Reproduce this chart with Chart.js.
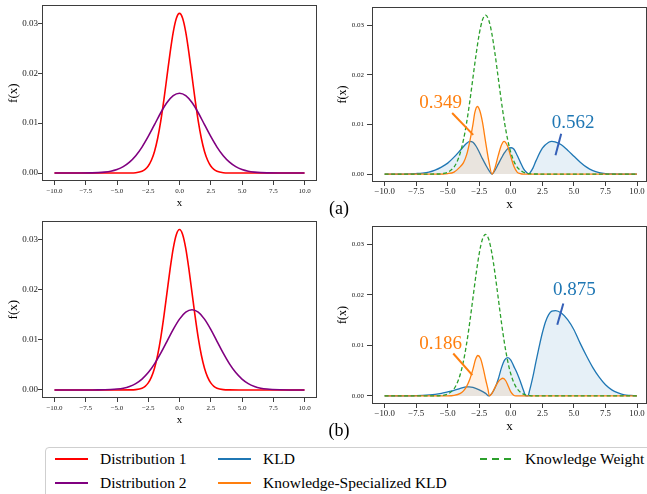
<!DOCTYPE html>
<html>
<head>
<meta charset="utf-8">
<script src="https://cdn.jsdelivr.net/npm/chart.js@4.4.1/dist/chart.umd.min.js"></script>
<style>
  body { margin: 0; background: #fff; }
  #fig { position: relative; width: 647px; height: 494px; overflow: hidden; background: #fff; font-family: "Liberation Serif", serif; }
  canvas { position: absolute; }
  .tag { position: absolute; font-size: 18px; color: #000; transform: translate(-50%, -50%); white-space: nowrap; }
  #legend { position: absolute; left: 45px; top: 447px; width: 640px; height: 70px; border: 1px solid #cfcfcf; border-radius: 4px; }
  .sw { position: absolute; width: 33px; height: 2px; }
  .lt { position: absolute; font-size: 15.5px; color: #000; transform: translateY(-50%); white-space: nowrap; }
</style>
</head>
<body>
<div id="fig">
  <canvas id="tl" width="320" height="212" style="left:0;top:0"></canvas>
  <canvas id="tr" width="317" height="215" style="left:330px;top:0"></canvas>
  <canvas id="bl" width="320" height="212" style="left:0;top:216px"></canvas>
  <canvas id="br" width="317" height="215" style="left:330px;top:219px"></canvas>
  <div class="tag" style="left:339px;top:208px">(a)</div>
  <div class="tag" style="left:339px;top:430px">(b)</div>
  <div id="legend"></div>
</div>
<script>
const FONT = "Liberation Serif";

// tick values
const xTicks = [-10, -7.5, -5, -2.5, 0, 2.5, 5, 7.5, 10];
const yTicks = [0, 0.01, 0.02, 0.03];

// left panels: the two distributions
const xsRed = [-10,-5,-4,-3.5,-3,-2.75,-2.5,-2.25,-2,-1.75,-1.5,-1.25,-1,-0.75,-0.5,-0.25,0,0.25,0.5,0.75,1,1.25,1.5,1.75,2,2.25,2.5,2.75,3,3.5,4,5,10];
const dist1 = [0,0,0.00001,0.00007,0.00036,0.00073,0.00141,0.00255,0.00433,0.00692,0.01039,0.01465,0.01941,0.02415,0.02824,0.03101,0.032,0.03101,0.02824,0.02415,0.01941,0.01465,0.01039,0.00692,0.00433,0.00255,0.00141,0.00073,0.00036,0.00007,0.00001,0,0];

const xsPurple = [-10,-9,-8,-7,-6.5,-6,-5.5,-5,-4.5,-4,-3.5,-3,-2.5,-2,-1.5,-1,-0.5,0,0.5,1,1.5,2,2.5,3,3.5,4,4.5,5,5.5,6,6.5,7,8,9,10];
const dist2a = [0,0,0.000005,0.000035,0.00008,0.00018,0.00036,0.0007,0.00127,0.00217,0.00346,0.0052,0.00733,0.0097,0.01208,0.01412,0.01551,0.016,0.01551,0.01412,0.01208,0.0097,0.00733,0.0052,0.00346,0.00217,0.00127,0.0007,0.00036,0.00018,0.00008,0.000035,0.000005,0,0];
const dist2b = [0,0,0,0.000005,0.000014,0.000035,0.00008,0.00018,0.00036,0.0007,0.00127,0.00217,0.00346,0.0052,0.00733,0.0097,0.01208,0.01412,0.01551,0.016,0.01551,0.01412,0.01208,0.0097,0.00733,0.0052,0.00346,0.00217,0.00127,0.0007,0.00036,0.00018,0.000035,0.000005,0];

// right panels: knowledge weight
const xsGreen = [-10,-7,-6,-5.5,-5,-4.5,-4.25,-4,-3.75,-3.5,-3.25,-3,-2.75,-2.5,-2.25,-2,-1.75,-1.5,-1.25,-1,-0.75,-0.5,-0.25,0,0.25,0.5,1,1.5,2,3,10];
const weight = [0,0,0.00001,0.00007,0.00036,0.00141,0.00255,0.00433,0.00692,0.01039,0.01465,0.01941,0.02415,0.02824,0.03101,0.032,0.03101,0.02824,0.02415,0.01941,0.01465,0.01039,0.00692,0.00433,0.00255,0.00141,0.00036,0.00007,0.00001,0,0];

// (a) KLD and knowledge-specialized KLD
const xsKldA = [-10,-9,-8,-7.5,-7,-6.5,-6,-5.5,-5,-4.5,-4,-3.5,-3.25,-3,-2.75,-2.5,-2.25,-2,-1.75,-1.49,-1.25,-1,-0.75,-0.5,-0.25,0.04,0.25,0.5,0.75,1,1.25,1.42,1.5,1.75,2,2.5,3,3.25,3.5,4,4.5,5,5.5,6,6.5,7,7.5,8,9,10];
const kldA = [0,0,0.00004,0.0001,0.0002,0.0004,0.0008,0.0014,0.0022,0.0034,0.0048,0.0062,0.0066,0.0064,0.0056,0.0044,0.0031,0.0019,0.0008,0,0.0008,0.002,0.0032,0.0043,0.0051,0.0053,0.005,0.0038,0.0024,0.0011,0.0003,0,0.0002,0.0012,0.0027,0.0052,0.0064,0.0066,0.0065,0.0059,0.0048,0.0036,0.0024,0.0014,0.0007,0.0003,0.0001,0.00003,0,0];
const xsKsA = [-10,-6,-5,-4.5,-4,-3.75,-3.5,-3.25,-3,-2.85,-2.65,-2.45,-2.25,-2,-1.75,-1.49,-1.25,-1,-0.75,-0.54,-0.25,0,0.25,0.5,0.75,1,10];
const ksA = [0,0,0.0001,0.0004,0.0015,0.0023,0.0039,0.0066,0.01,0.0124,0.0136,0.0127,0.0105,0.0065,0.0027,0,0.0013,0.0037,0.0058,0.0066,0.0056,0.0035,0.0015,0.0004,0.0001,0,0];

// (b) KLD and knowledge-specialized KLD
const xsKldB = [-10,-8,-7,-6,-5.5,-5,-4.5,-4,-3.5,-3.3,-3,-2.5,-2,-1.75,-1.5,-1.25,-1,-0.75,-0.5,-0.23,0,0.25,0.5,0.75,1,1.2,1.35,1.5,1.75,2,2.25,2.5,2.75,3,3.25,3.55,4,4.5,5,5.5,6,6.5,7,7.5,8,8.5,9,9.5,10];
const kldB = [0,0.00002,0.0001,0.0003,0.0005,0.0008,0.0011,0.0015,0.0018,0.0018,0.0017,0.0012,0.0005,0,0.0005,0.0016,0.0033,0.0055,0.0071,0.0076,0.0071,0.0058,0.0045,0.0029,0.0011,0,0,0.0012,0.0038,0.0069,0.0098,0.0125,0.0147,0.0161,0.0168,0.0169,0.0164,0.0151,0.0131,0.0104,0.0079,0.0056,0.0037,0.0022,0.0012,0.0006,0.0002,0.0001,0];
const xsKsB = [-10,-5,-4.5,-4,-3.75,-3.5,-3.25,-3,-2.8,-2.61,-2.4,-2.2,-2,-1.8,-1.7,-1.5,-1.25,-1,-0.8,-0.63,-0.4,-0.2,0,0.2,0.4,1,10];
const ksB = [0,0,0.0001,0.0005,0.001,0.0019,0.0033,0.0053,0.0072,0.008,0.0074,0.0056,0.0033,0.0012,0,0.0005,0.0017,0.0028,0.0033,0.0035,0.003,0.0019,0.0008,0.0002,0,0,0];

// annotation values (sum of the shaded areas)
const notesA = ["0.349", "0.562"];
const notesB = ["0.186", "0.875"];

const seriesNames = ["Distribution 1", "Distribution 2", "KLD", "Knowledge-Specialized KLD", "Knowledge Weight"];

const RED = "#ff0000", PURPLE = "#800080", BLUE = "#1f77b4", ORANGE = "#ff7f0e", GREEN = "#2ca02c";

function pts(xs, ys) {
  return xs.map((x, i) => ({ x: x, y: ys[i] }));
}

function fmtX(v) {
  return (v < 0 ? "\u2212" : "") + Math.abs(v).toFixed(1);
}

// box around the plot area (all four spines)
const framePlugin = {
  id: "frame",
  afterDraw(chart) {
    const a = chart.chartArea, ctx = chart.ctx;
    ctx.save();
    ctx.strokeStyle = "#3d3d3d";
    ctx.lineWidth = 1;
    ctx.strokeRect(Math.round(a.left) + 0.5, Math.round(a.top) + 0.5,
      Math.round(a.right) - Math.round(a.left) - 1, Math.round(a.bottom) - Math.round(a.top) - 1);
    ctx.restore();
  }
};

// number labels with a short pointer line, placed in data units
const notePlugin = {
  id: "notes",
  afterDatasetsDraw(chart, args, opts) {
    const xs = chart.scales.x, ys = chart.scales.y, ctx = chart.ctx;
    (opts.items || []).forEach(n => {
      ctx.save();
      ctx.strokeStyle = n.lineColor;
      ctx.lineWidth = 2;
      ctx.beginPath();
      ctx.moveTo(xs.getPixelForValue(n.x1), ys.getPixelForValue(n.y1));
      ctx.lineTo(xs.getPixelForValue(n.x2), ys.getPixelForValue(n.y2));
      ctx.stroke();
      ctx.fillStyle = n.color;
      ctx.font = "19px \"" + FONT + "\"";
      ctx.textAlign = "center";
      ctx.textBaseline = "middle";
      ctx.fillText(n.text, xs.getPixelForValue(n.tx), ys.getPixelForValue(n.ty));
      ctx.restore();
    });
  }
};

function line(data, color, width, order, extra) {
  return Object.assign({
    data: data, borderColor: color, borderWidth: width, pointRadius: 0,
    cubicInterpolationMode: "monotone", fill: false, order: order
  }, extra || {});
}

function panel(id, c) {
  return new Chart(document.getElementById(id), {
    type: "line",
    data: { datasets: c.datasets },
    plugins: [framePlugin, notePlugin],
    options: {
      responsive: false,
      animation: false,
      devicePixelRatio: 1,
      layout: { padding: c.pad },
      plugins: { legend: { display: false }, tooltip: { enabled: false }, notes: { items: c.notes || [] } },
      scales: {
        x: {
          type: "linear", min: -11, max: c.xmax, bounds: "data",
          afterBuildTicks: s => { s.ticks = xTicks.map(v => ({ value: v })); },
          afterFit: s => { s.height = c.xh; },
          grid: { drawOnChartArea: false, tickLength: 4, color: "#3d3d3d" },
          border: { display: false },
          ticks: { font: { family: FONT, size: c.xtf }, color: "#222", padding: c.xtp, maxRotation: 0, autoSkip: false, callback: v => fmtX(v) },
          title: { display: true, text: "x", color: "#000", font: { family: FONT, size: c.xts }, padding: { top: 0, bottom: c.xtb } }
        },
        y: {
          type: "linear", min: -0.0016, max: 0.0336, bounds: "data",
          afterBuildTicks: s => { s.ticks = yTicks.map(v => ({ value: v })); },
          afterFit: s => { s.width = c.yw; },
          grid: { drawOnChartArea: false, tickLength: c.ytl, color: "#3d3d3d" },
          border: { display: false },
          ticks: { font: { family: FONT, size: c.ytf }, color: "#222", padding: c.ytp, callback: v => v.toFixed(2) },
          title: { display: true, text: "f(x)", color: "#000", font: { family: FONT, size: c.yts }, padding: { top: c.ytt, bottom: 0 } }
        }
      }
    }
  });
}

const leftCommon = { xmax: 11, yw: 42, xtf: 7, xtp: 1.5, xts: 11, ytf: 9, ytp: 0, ytl: 4, yts: 13, ytt: 6.2 };
const rightCommon = { xmax: 10.79, yw: 42, xtf: 8.8, xtp: 0.5, xts: 13, ytf: 7, ytp: 3, ytl: 5, yts: 12, ytt: 5.3 };

panel("tl", Object.assign({}, leftCommon, {
  pad: { left: 0, top: 4, right: 3, bottom: 0 }, xh: 31, xtb: 2.4,
  datasets: [
    line(pts(xsRed, dist1), RED, 1.6, 1),
    line(pts(xsPurple, dist2a), PURPLE, 1.6, 0)
  ]
}));

panel("bl", Object.assign({}, leftCommon, {
  pad: { left: 0, top: 4, right: 3, bottom: 0 }, xh: 30, xtb: 1.4,
  datasets: [
    line(pts(xsRed, dist1), RED, 1.6, 1),
    line(pts(xsPurple, dist2b), PURPLE, 1.6, 0)
  ]
}));

function rightSets(xk, yk, xo, yo) {
  return [
    line(pts(xk, yk), BLUE, 1.3, 2, { fill: "origin", backgroundColor: "rgba(31,119,180,0.11)" }),
    line(pts(xo, yo), ORANGE, 1.3, 1, { fill: "origin", backgroundColor: "rgba(255,127,14,0.11)" }),
    line(pts(xsGreen, weight), GREEN, 1.3, 0, { borderDash: [4, 2.5] })
  ];
}

panel("tr", Object.assign({}, rightCommon, {
  pad: { left: 0, top: 1.5, right: 0, bottom: 0 }, xh: 33, xtb: 2.2,
  datasets: rightSets(xsKldA, kldA, xsKsA, ksA),
  notes: [
    { text: notesA[0], color: ORANGE, lineColor: ORANGE, tx: -5.57, ty: 0.0144, x1: -4.65, y1: 0.0123, x2: -2.98, y2: 0.0079 },
    { text: notesA[1], color: BLUE, lineColor: "#3560b8", tx: 4.94, ty: 0.0102, x1: 3.99, y1: 0.0081, x2: 3.54, y2: 0.0038 }
  ]
}));

panel("br", Object.assign({}, rightCommon, {
  pad: { left: 0, top: 4, right: 0, bottom: 0 }, xh: 30, xtb: 0,
  datasets: rightSets(xsKldB, kldB, xsKsB, ksB),
  notes: [
    { text: notesB[0], color: ORANGE, lineColor: ORANGE, tx: -5.57, ty: 0.0102, x1: -4.56, y1: 0.0084, x2: -3.05, y2: 0.0041 },
    { text: notesB[1], color: BLUE, lineColor: "#3560b8", tx: 5.03, ty: 0.0209, x1: 4.16, y1: 0.0183, x2: 3.68, y2: 0.0141 }
  ]
}));

// legend
const legendItems = [
  { name: seriesNames[0], color: RED, col: 0, row: 0 },
  { name: seriesNames[1], color: PURPLE, col: 0, row: 1 },
  { name: seriesNames[2], color: BLUE, col: 1, row: 0 },
  { name: seriesNames[3], color: ORANGE, col: 1, row: 1 },
  { name: seriesNames[4], color: GREEN, col: 2, row: 0, dashed: true }
];
const colX = [9, 172, 434];
const rowY = [11, 35];
const legend = document.getElementById("legend");
legendItems.forEach(it => {
  const sw = document.createElement("div");
  sw.className = "sw";
  sw.style.left = colX[it.col] + "px";
  sw.style.top = (rowY[it.row] - 1) + "px";
  sw.style.background = it.dashed
    ? "repeating-linear-gradient(90deg," + it.color + " 0 7px, transparent 7px 12px)"
    : it.color;
  legend.appendChild(sw);
  const t = document.createElement("div");
  t.className = "lt";
  t.style.left = (colX[it.col] + 45) + "px";
  t.style.top = rowY[it.row] + "px";
  t.textContent = it.name;
  legend.appendChild(t);
});
</script>
</body>
</html>
